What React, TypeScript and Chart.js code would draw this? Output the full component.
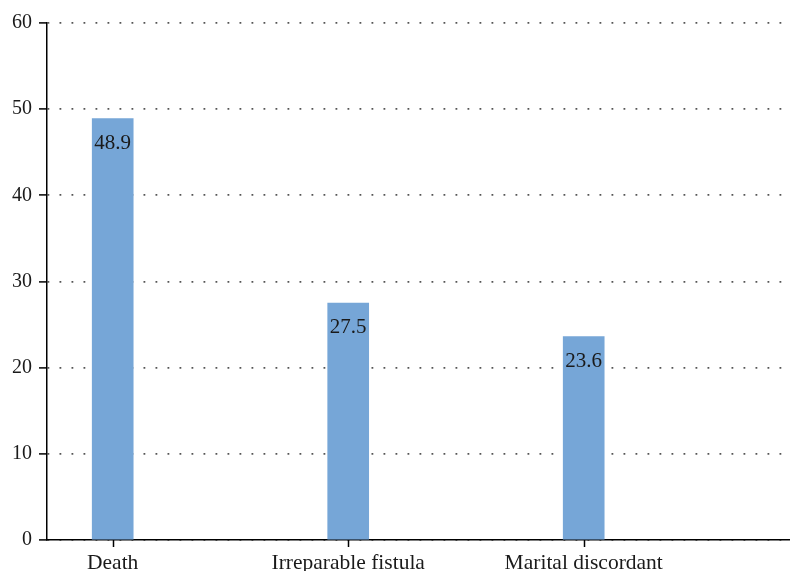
import React, { useEffect, useRef } from "react";
import { Chart, registerables } from "chart.js";

Chart.register(...registerables);

const categories: string[] = ["Death", "Irreparable fistula", "Marital discordant"];
const values: number[] = [48.9, 27.5, 23.6];
const yTicks: number[] = [0, 10, 20, 30, 40, 50, 60];

const FONT = "'Liberation Serif', 'DejaVu Serif', serif";

const valueLabels = {
  id: "valueLabels",
  afterDatasetsDraw(chart: any) {
    const ctx = chart.ctx;
    const meta = chart.getDatasetMeta(0);
    ctx.save();
    ctx.font = `21px ${FONT}`;
    ctx.fillStyle = "#1a1a1a";
    ctx.textAlign = "center";
    ctx.textBaseline = "top";
    meta.data.forEach((el: any, i: number) => {
      ctx.fillText(String(values[i]), el.x, el.y + 14);
    });
    ctx.restore();
  },
};

const xTickMarks = {
  id: "xTickMarks",
  afterDraw(chart: any) {
    const ctx = chart.ctx;
    const xs = chart.scales.x;
    const y0 = xs.top;
    ctx.save();
    ctx.setLineDash([]);
    ctx.strokeStyle = "#000000";
    ctx.lineWidth = 1.5;
    for (let i = 0; i < categories.length; i++) {
      const px = Math.round(xs.getPixelForValue(i)) + 0.5;
      ctx.beginPath();
      ctx.moveTo(px, y0);
      ctx.lineTo(px, y0 + 7);
      ctx.stroke();
    }
    ctx.restore();
  },
};

export default function App() {
  const ref = useRef<HTMLCanvasElement>(null);
  useEffect(() => {
    if (!ref.current) return;
    const chart = new Chart(ref.current, {
      type: "bar",
      data: {
        datasets: [
          {
            data: values.map((v, i) => ({ x: i, y: v })),
            backgroundColor: "#76A6D7",
            barThickness: 41,
            borderWidth: 0,
          },
        ],
      },
      options: {
        animation: false,
        responsive: false,
        devicePixelRatio: 1,
        layout: { padding: { top: 23, right: 0, left: 0, bottom: 0 } },
        plugins: { legend: { display: false }, tooltip: { enabled: false } },
        scales: {
          x: {
            type: "linear",
            offset: false,
            min: -0.279,
            max: 2.876,
            afterBuildTicks: (scale: any) => {
              scale.ticks = categories.map((_, i) => ({ value: i }));
            },
            afterFit: (scale: any) => {
              scale.height = 31;
            },
            ticks: {
              autoSkip: false,
              maxRotation: 0,
              padding: 10,
              color: "#1a1a1a",
              font: { family: FONT, size: 21.5 },
              callback: (v: any) => categories[Number(v)] ?? "",
            },
            grid: {
              offset: false,
              display: false,
              drawTicks: false,
              tickLength: 0,
            },
            border: { display: true, color: "#000", width: 1.5 },
          },
          y: {
            min: 0,
            max: 60,
            afterBuildTicks: (scale: any) => {
              scale.ticks = yTicks.map((v) => ({ value: v }));
            },
            afterFit: (scale: any) => {
              scale.width = 47;
            },
            ticks: {
              padding: 7,
              color: "#1a1a1a",
              font: { family: FONT, size: 20 },
            },
            grid: {
              color: "#555",
              lineWidth: 1.8,
              drawTicks: true,
              tickLength: 8,
              tickColor: "#000",
              tickWidth: 1.5,
              tickBorderDash: [],
            },
            border: { display: true, color: "#000", width: 1.5, dash: [1.8, 10.2] },
          },
        },
      },
      plugins: [valueLabels, xTickMarks],
    });
    return () => chart.destroy();
  }, []);
  return (
    <div style={{ position: "absolute", left: 0, top: 0, width: 790, height: 571, background: "#fff" }}>
      <canvas ref={ref} width={790} height={571} />
    </div>
  );
}
